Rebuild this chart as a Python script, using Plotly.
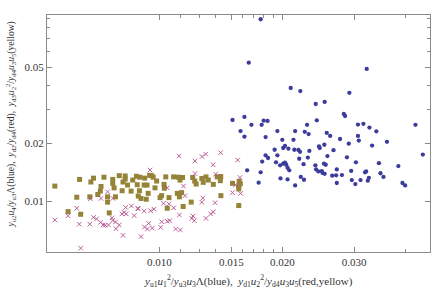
import plotly.graph_objects as go

# ---- data (values x 1e-3) ----
blue_x = [17.7, 16.55, 32.2, 20.97, 22.14, 29.2, 25.4, 24.15, 28.3, 28.5, 15.1, 16.15, 18.0, 18.4, 24.3,
          17.8, 16.8, 23.0, 30.65, 31.6, 42.4, 32.7, 15.8, 19.45, 21.5, 22.7, 23.2, 25.7, 26.2, 34.0,
          16.15, 18.2, 30.65, 20.0, 21.3, 27.7, 30.8, 36.1, 20.3, 24.6, 25.35, 29.1, 33.2,
          20.1, 20.7, 19.15, 21.4, 21.9, 22.1, 23.3, 24.7, 26.7, 18.2, 18.45, 19.45, 22.0, 23.1,
          25.8, 28.8, 44.2, 17.85, 19.3, 19.75, 20.1, 20.3, 20.45, 20.6, 20.8, 22.55, 24.1, 25.3,
          25.55, 30.3, 34.5, 38.5, 16.4, 17.7, 24.2, 24.5, 25.0, 25.4, 25.1, 27.2, 29.5, 31.9,
          32.1, 34.8, 22.2, 26.5, 27.1, 28.0, 32.6, 35.4, 19.8, 20.6, 22.6, 29.6, 31.1, 32.4,
          17.5, 27.2, 30.2, 21.5, 39.4, 40.0]
blue_y = [88.7, 52.7, 48.9, 38.9, 37.5, 36.7, 32.9, 32.1, 28.5, 27.8, 26.5, 27.5, 26.3, 26.2, 26.4,
          25.0, 25.0, 25.0, 25.1, 25.3, 25.0, 24.2, 23.2, 23.2, 23.2, 23.0, 22.4, 22.7, 21.9, 23.15,
          21.7, 21.6, 21.9, 20.9, 20.9, 21.1, 20.7, 20.4, 19.4, 19.3, 19.7, 19.95, 19.5,
          18.95, 18.8, 18.55, 18.55, 18.5, 18.1, 18.3, 18.95, 18.45, 17.35, 16.8, 17.35, 16.65, 16.9,
          17.2, 16.95, 17.5, 16.1, 15.95, 15.4, 15.7, 15.9, 15.5, 14.95, 14.5, 15.6, 15.4, 15.7,
          15.5, 15.95, 15.8, 15.25, 14.5, 14.15, 14.65, 14.3, 14.35, 13.9, 14.05, 14.65, 14.4, 14.15,
          14.3, 14.0, 13.4, 13.6, 13.65, 13.7, 13.25, 13.4, 13.15, 13.0, 12.95, 12.9, 12.9, 12.8,
          12.5, 12.45, 12.3, 12.1, 12.45, 12.1]

red_x = [5.54, 5.97, 6.27, 6.36, 6.77, 6.75, 6.89, 7.01, 7.17, 7.19, 7.27, 7.36, 7.46, 7.5, 7.65,
         7.68, 7.69, 7.8, 7.82, 7.97, 8.09, 8.14, 8.19, 8.29, 8.26, 8.53, 8.67, 8.84, 8.87, 9.01,
         9.17, 9.19, 9.34, 9.41, 9.48, 6.41, 11.17, 12.22, 12.71, 12.98, 14.12, 13.54, 15.55, 12.22,
         13.73, 11.45, 10.45, 11.55, 12.77, 10.23, 10.55, 12.7, 13.68, 9.51, 9.69, 10.83, 11.19,
         12.08, 12.0, 12.17, 13.0, 13.35, 13.55, 9.6, 10.07, 10.45, 10.6, 10.13, 10.96, 11.25,
         15.1, 15.35, 15.8, 15.75]
red_y = [7.99, 8.4, 9.2, 7.6, 10.3, 7.6, 8.25, 8.1, 7.77, 10.35, 7.53, 7.5, 11.2, 7.53, 8.2,
         7.95, 10.35, 7.8, 7.2, 7.53, 8.6, 6.65, 8.75, 8.6, 9.3, 9.45, 8.42, 9.2, 9.15, 6.55,
         8.9, 7.35, 7.17, 7.68, 14.55, 5.7, 17.2, 16.2, 17.1, 17.6, 17.9, 15.5, 16.4, 13.95,
         13.85, 12.0, 11.75, 10.7, 10.4, 9.76, 9.7, 9.88, 9.83, 8.93, 9.1, 9.25, 8.49,
         8.38, 8.15, 7.93, 8.15, 8.6, 8.8, 7.25, 7.32, 7.87, 7.93, 7.83, 7.17, 7.09,
         11.1, 12.15, 11.0, 13.3]

yellow_x = [5.54, 5.97, 6.41, 6.27, 6.37, 6.75, 6.79, 6.89, 7.06, 7.19, 7.16, 7.31, 7.46, 7.46, 7.53,
            7.68, 7.68, 7.74, 7.8, 7.97, 8.1, 8.14, 8.24, 8.24, 8.35, 8.52, 8.6, 8.78, 8.82, 8.87,
            8.93, 8.95, 9.01, 9.17, 9.2, 9.28, 9.32, 9.38, 9.46, 9.57, 9.65, 9.84, 9.75, 10.03,
            10.36, 10.26, 10.28, 10.12, 10.55, 10.45, 10.83, 11.13, 11.23, 11.39, 11.33, 11.06,
            11.19, 11.43, 11.96, 12.06, 12.2, 12.3, 12.8, 12.7, 13.0, 13.17, 13.55, 13.85, 14.1,
            14.14, 15.1, 15.64, 15.64, 15.68, 15.78, 15.64, 14.13]
yellow_y = [12.0, 8.84, 8.56, 10.5, 13.0, 10.55, 12.6, 13.2, 10.85, 11.95, 11.3, 13.35, 10.55, 9.9, 8.7,
            13.0, 12.4, 11.75, 10.55, 13.6, 11.35, 12.6, 13.55, 13.05, 12.15, 11.3, 12.9, 13.5, 12.2, 10.65,
            11.35, 13.35, 10.35, 12.15, 13.2, 10.25, 12.15, 11.0, 13.65, 13.6, 13.35, 12.75, 11.75, 10.45,
            13.4, 12.25, 11.7, 10.7, 10.45, 9.2, 13.4, 13.35, 12.9, 13.3, 11.1, 11.0,
            10.55, 9.4, 9.9, 13.3, 12.75, 12.3, 12.55, 13.15, 13.4, 12.9, 12.25, 13.4, 12.8,
            10.7, 12.4, 12.0, 9.5, 12.7, 12.35, 11.6, 13.45]

x_tick_vals = [0.010, 0.015, 0.020, 0.030]
x_tick_text = ["0.010", "0.015", "0.020", "0.030"]
x_minor_vals = [0.01125, 0.0125, 0.01375, 0.016, 0.017, 0.018, 0.019, 0.04]
y_tick_vals = [0.01, 0.02, 0.05]
y_tick_text = ["0.01", "0.02", "0.05"]
y_minor_vals = [0.03, 0.04, 0.06, 0.07, 0.08, 0.09]

S = 1e-3
fig = go.Figure()
fig.add_trace(go.Scatter(x=[v * S for v in yellow_x], y=[v * S for v in yellow_y], mode="markers",
                         marker=dict(symbol="square", size=5, color="#958437", line=dict(width=0))))
fig.add_trace(go.Scatter(x=[v * S for v in red_x], y=[v * S for v in red_y], mode="markers",
                         marker=dict(symbol="x-thin-open", size=4.5, color="#b4508e",
                                     line=dict(width=0.9, color="#b4508e"))))
fig.add_trace(go.Scatter(x=[v * S for v in blue_x], y=[v * S for v in blue_y], mode="markers",
                         marker=dict(symbol="circle", size=4.3, color="#3c3c9c", line=dict(width=0))))

font_t = "Liberation Serif, Times New Roman, serif"
xt = ("<i>y</i><sub>u1</sub><i>u</i><sub>1</sub><sup>2</sup>/<i>y</i><sub>u3</sub><i>u</i><sub>3</sub>Λ(blue),  "
      "<i>y</i><sub>d1</sub><i>u</i><sub>2</sub><sup>2</sup>/<i>y</i><sub>d4</sub><i>u</i><sub>3</sub><i>u</i><sub>5</sub>(red,yellow)")
yt = ("<i>y</i><sub>u2</sub><i>u</i><sub>4</sub>/<i>y</i><sub>u3</sub>Λ(blue),  "
      "<i>y</i><sub>d2</sub>/<i>y</i><sub>d4</sub>(red),  "
      "<i>y</i><sub>d3</sub><i>u</i><sub>2</sub><sup>2</sup>/<i>y</i><sub>d4</sub><i>u</i><sub>3</sub><i>u</i><sub>5</sub>(yellow)")

axis_common = dict(showgrid=False, zeroline=False, showline=True, linecolor="#8a8a8a", linewidth=1,
                   mirror="allticks", ticks="inside", ticklen=5, tickcolor="#8a8a8a", tickwidth=1,
                   automargin=False,
                   tickfont=dict(family=font_t, size=11, color="#333333"))

fig.update_layout(
    width=436, height=294, showlegend=False,
    paper_bgcolor="white", plot_bgcolor="white",
    margin=dict(l=47, r=6, t=15, b=42),
    font=dict(family=font_t, size=11, color="#333333"),
    xaxis=dict(type="log", range=[-2.2757, -1.337], tickmode="array", tickvals=x_tick_vals,
               ticktext=x_tick_text,
               minor=dict(tickmode="array", tickvals=x_minor_vals, ticks="inside", ticklen=3,
                          tickcolor="#8a8a8a"),
               **axis_common),
    yaxis=dict(type="log", range=[-2.264, -1.030], tickmode="array", tickvals=y_tick_vals,
               ticktext=y_tick_text,
               minor=dict(tickmode="array", tickvals=y_minor_vals, ticks="inside", ticklen=3,
                          tickcolor="#8a8a8a"),
               **axis_common),
    annotations=[
        dict(text=xt, xref="paper", yref="paper", x=0.527, y=-0.122, xanchor="center", yanchor="middle",
             showarrow=False, font=dict(family=font_t, size=11, color="#333333")),
        dict(text=yt, xref="paper", yref="paper", x=-0.0966, y=0.538, xanchor="center", yanchor="middle",
             textangle=-90, showarrow=False, font=dict(family=font_t, size=9.6, color="#333333")),
    ],
)
fig.write_html("out.html", config={"displayModeBar": False},
               post_script="document.body.style.margin='0px';")
